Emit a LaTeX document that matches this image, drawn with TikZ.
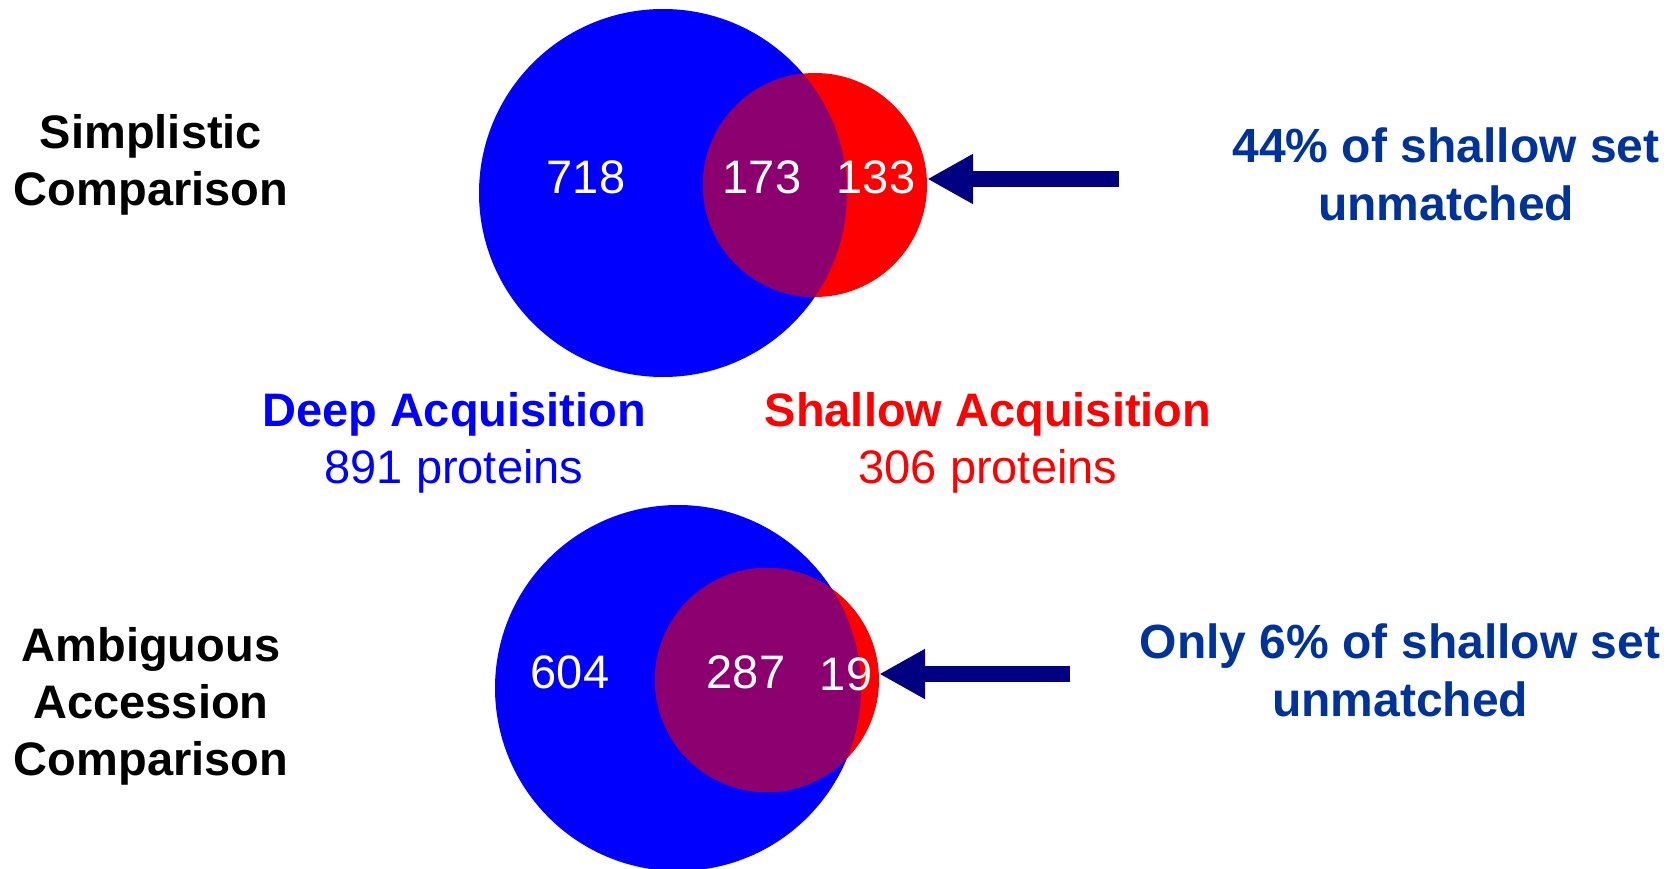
\documentclass[tikz,border=0pt]{standalone}
\usepackage{fontspec}
\setmainfont{Liberation Sans}
\usetikzlibrary{arrows.meta}
\definecolor{overlap}{RGB}{139,0,110}
\definecolor{notecol}{RGB}{0,51,153}
\definecolor{arrowcol}{RGB}{0,0,128}

\begin{document}
\begin{tikzpicture}[
    x=1pt, y=-1pt,
    % Style for the two kinds of set circles
    deep set/.style={circle, fill=blue, inner sep=0pt, minimum size=#1},
    shallow set/.style={circle, fill=red, inner sep=0pt, minimum size=#1},
    % Style for the counts inside the circles
    count/.style={text=white, font=\fontsize{47}{56}\selectfont},
    % Style for the row titles and the notes
    title/.style={align=center, font=\fontsize{47}{57}\selectfont\bfseries},
    note/.style={align=center, text=notecol, font=\fontsize{48}{58}\selectfont\bfseries},
    % Style for the fat arrows
    pointer/.style={arrowcol, line width=16pt, -{Triangle[length=46pt, width=47pt]}}
]
    \useasboundingbox (0,0) rectangle (1675,869);

    % --- 1. Define Coordinates ---
    \coordinate (tailA) at (1119,179);
    \coordinate (tailB) at (1070,674);

    % --- 2. Draw Circles ---
    \node[deep set=368pt] (deepA) at (663,193) {};
    \node[shallow set=224pt] (shallowA) at (815,185) {};
    \node[deep set=366pt] (deepB) at (678,688) {};
    \node[shallow set=224pt] (shallowB) at (767,680) {};

    % Overlaps, clipped to the blue circles
    \begin{scope}
        \clip (deepA.center) circle[radius=184];
        \fill[overlap] (shallowA.center) circle[radius=112];
    \end{scope}
    \begin{scope}
        \clip (deepB.center) circle[radius=183];
        \fill[overlap] (shallowB.center) circle[radius=112];
    \end{scope}

    % --- 3. Draw Counts ---
    \node[count] (onlyDeepA) at (586,177) {718};
    \node[count] (bothA) at (762,177) {173};
    \node[count] (onlyShallowA) at (876,177) {133};

    \node[count] (onlyDeepB) at (570,672) {604};
    \node[count] (bothB) at (746,672) {287};
    \node[count] (onlyShallowB) at (846,674) {19};

    % --- 4. Draw Arrows ---
    \draw[pointer] (tailA) -- (tailA -| shallowA.east);
    \draw[pointer] (tailB) -- (tailB -| shallowB.east);

    % --- 5. Draw Labels ---
    \node[title] (simple) at (151,165) {Simplistic\\Comparison};
    \node[title] (ambig) at (151,706) {Ambiguous\\Accession\\Comparison};

    \node[align=center, text=blue, font=\fontsize{47}{57}\selectfont] (deepLabel) at (454,443)
        {\textbf{Deep Acquisition}\\891 proteins};
    \node[align=center, text=red, font=\fontsize{47}{57}\selectfont] (shallowLabel) at (988,443)
        {\textbf{Shallow Acquisition}\\306 proteins};

    \node[note] (noteA) at (1446,174) {44\% of shallow set\\unmatched};
    \node[note] (noteB) at (1400,670) {Only 6\% of shallow set\\unmatched};

\end{tikzpicture}
\end{document}
